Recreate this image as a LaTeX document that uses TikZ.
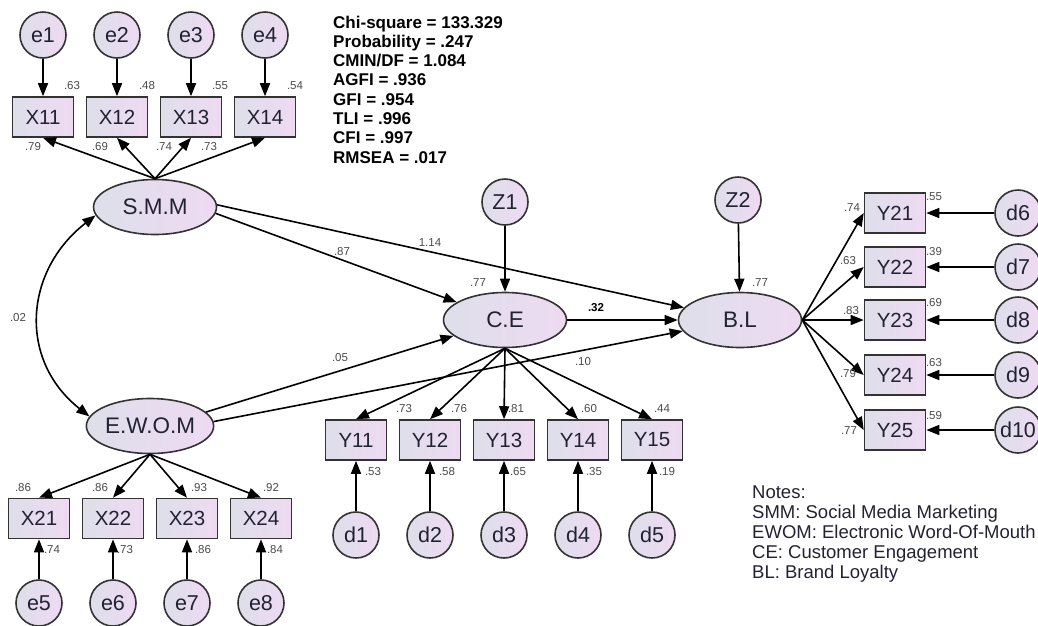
\documentclass[tikz,border=0pt]{standalone}
\usepackage{fontspec}
\setmainfont{Liberation Sans}
\usetikzlibrary{arrows.meta,shapes.geometric}
\definecolor{fillL}{HTML}{DEDFEA}
\definecolor{fillR}{HTML}{EEDAF2}
\definecolor{bord}{HTML}{333333}
\definecolor{numc}{HTML}{4A4A4A}
\definecolor{txt}{HTML}{222233}
\begin{document}
\begin{tikzpicture}[x=1pt,y=-1pt,
  every node/.style={inner sep=0pt, text=txt},
  shadeit/.style={draw=bord, line width=1.6pt, left color=fillL, right color=fillR},
  latent/.style={shadeit, ellipse, minimum width=123pt, minimum height=55pt, font=\fontsize{22.5}{24}\selectfont},
  obsv/.style={shadeit, rectangle, minimum width=61pt, minimum height=40pt, font=\fontsize{20.5}{22}\selectfont},
  errc/.style={shadeit, circle, minimum size=46pt, font=\fontsize{21.5}{23}\selectfont},
  num/.style={font=\fontsize{11.5}{12}\selectfont, text=numc},
  arr/.style={line width=1.6pt, draw=black, -{Triangle[length=13pt,width=10pt]}},
  cov/.style={line width=1.6pt, draw=black, {Triangle[length=13pt,width=10pt]}-{Triangle[length=13pt,width=10pt]}},
]
\useasboundingbox (0,0) rectangle (1038,625);

% latent variables
\node[latent] (SMM) at (155,207) {S.M.M};
\node[latent] (EWOM) at (150,426) {E.W.O.M};
\node[latent] (CE) at (505,320) {C.E};
\node[latent] (BL) at (740,320) {B.L};
\node[errc] (Z1) at (505,202) {Z1};
\node[errc] (Z2) at (738,200) {Z2};

% SMM indicators
\foreach \n/\x in {1/43,2/117,3/191,4/265} {
  \node[errc] (e\n) at (\x,35) {e\n};
  \node[obsv] (X1\n) at (\x,117) {X1\n};
  \draw[arr] (e\n) -- (X1\n);
  \draw[arr] (SMM.north) -- (X1\n.south);
}
% EWOM indicators
\foreach \n/\x/\m in {1/39/5,2/113/6,3/187/7,4/261/8} {
  \node[obsv] (X2\n) at (\x,518.5) {X2\n};
  \node[errc] (e\m) at (\x,603) {e\m};
  \draw[arr] (e\m) -- (X2\n);
  \draw[arr] (EWOM.south) -- (X2\n.north);
}
% CE indicators
\foreach \n/\x in {1/356,2/430,3/504,4/578,5/652} {
  \node[obsv] (Y1\n) at (\x,440) {Y1\n};
  \node[errc] (d\n) at (\x,535) {d\n};
  \draw[arr] (d\n) -- (Y1\n);
  \draw[arr] (CE.south) -- (Y1\n.north);
}
% BL indicators
\foreach \n/\y/\m in {1/213/6,2/267/7,3/320/8,4/375/9,5/430/10} {
  \node[obsv] (Y2\n) at (895,\y) {Y2\n};
  \node[errc] (d\m) at (1018,\y) {d\m};
  \draw[arr] (d\m) -- (Y2\n);
  \draw[arr] (BL.east) -- (Y2\n.west);
}

% structural paths
\draw[arr] (SMM.-6) -- (CE);
\draw[arr] (SMM.2) -- (BL);
\draw[arr] (EWOM.14) -- (CE);
\draw[arr] (EWOM.4) -- (BL);
\draw[arr] (CE.east) -- (BL.west);
\draw[arr] (Z1) -- (CE);
\draw[arr] (Z2) -- (BL);
\draw[cov] (SMM.188) .. controls (24,271) and (18,360) .. (EWOM.171);

% numbers
\node[num] (n1) at (72,86) {.63};
\node[num] (n2) at (147,86) {.48};
\node[num] (n3) at (220,86) {.55};
\node[num] (n4) at (295,86) {.54};
\node[num] (n5) at (33,147) {.79};
\node[num] (n6) at (100,147) {.69};
\node[num] (n7) at (164,147) {.74};
\node[num] (n8) at (209,147) {.73};
\node[num] (n9) at (23,488) {.86};
\node[num] (n10) at (100,488) {.86};
\node[num] (n11) at (199,488) {.93};
\node[num] (n12) at (271,488) {.92};
\node[num] (n13) at (52,550) {.74};
\node[num] (n14) at (125,550) {.73};
\node[num] (n15) at (203,550) {.86};
\node[num] (n16) at (275,550) {.84};
\node[num] (n17) at (18,318) {.02};
\node[num] (n18) at (342,252) {.87};
\node[num] (n19) at (430,243) {1.14};
\node[num] (n20) at (478,283) {.77};
\node[num, font=\bfseries\fontsize{11.5}{12}\selectfont, text=black] (n21) at (596,308) {.32};
\node[num] (n22) at (340,358) {.05};
\node[num] (n23) at (583,362) {.10};
\node[num] (n24) at (760,283) {.77};
\node[num] (n25) at (404,409) {.73};
\node[num] (n26) at (459,409) {.76};
\node[num] (n27) at (516,409) {.81};
\node[num] (n28) at (589,409) {.60};
\node[num] (n29) at (662,409) {.44};
\node[num] (n30) at (373,472) {.53};
\node[num] (n31) at (447,472) {.58};
\node[num] (n32) at (518,472) {.65};
\node[num] (n33) at (594,472) {.35};
\node[num] (n34) at (667,472) {.19};
\node[num] (n35) at (852,208) {.74};
\node[num] (n36) at (848,261) {.63};
\node[num] (n37) at (851,311) {.83};
\node[num] (n38) at (848,374) {.79};
\node[num] (n39) at (849,431) {.77};
\node[num] (n40) at (934,197) {.55};
\node[num] (n41) at (934,252) {.39};
\node[num] (n42) at (934,303) {.69};
\node[num] (n43) at (934,363) {.63};
\node[num] (n44) at (934,416) {.59};

% fit statistics
\node[anchor=north west, align=left, text=black, font=\bfseries\fontsize{17}{19.3}\selectfont] (fit) at (333,15.5)
 {Chi-square = 133.329\\Probability = .247\\CMIN/DF = 1.084\\AGFI = .936\\GFI = .954\\TLI = .996\\CFI = .997\\RMSEA = .017};

% notes
\node[anchor=north west, align=left, text=txt, font=\fontsize{18.5}{20}\selectfont] (notes) at (752,486)
 {Notes:\\SMM: Social Media Marketing\\EWOM: Electronic Word-Of-Mouth\\CE: Customer Engagement\\BL: Brand Loyalty};
\end{tikzpicture}
\end{document}
